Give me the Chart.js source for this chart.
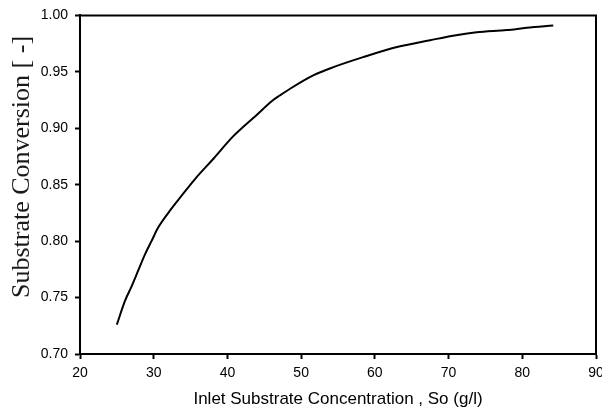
<!DOCTYPE html>
<html>
<head>
<meta charset="utf-8">
<script src="https://cdn.jsdelivr.net/npm/chart.js@4/dist/chart.umd.min.js"></script>
<style>
	html, body { margin: 0; padding: 0; background: #fff; }
	.chart { width: 602px; height: 410px; }
</style>
</head>
<body>
<div class="chart"><canvas class="chart__canvas" width="602" height="410"></canvas></div>
<script>
// values
const concentration = [25.0, 26.1, 27.0, 27.9, 28.8, 29.7, 30.6, 32.2, 34.0, 35.6, 38.1, 40.8, 44.0, 46.0, 47.1, 48.5, 51.7, 53.9, 58.4, 63.0, 67.5, 70.6, 73.8, 77.9, 80.6, 84.2];
const conversion = [0.726, 0.747, 0.760, 0.774, 0.788, 0.800, 0.812, 0.827, 0.842, 0.855, 0.873, 0.893, 0.912, 0.924, 0.929, 0.935, 0.947, 0.953, 0.963, 0.972, 0.978, 0.982, 0.985, 0.987, 0.989, 0.991];
const xTicks = [20, 30, 40, 50, 60, 70, 80, 90];
const yTicks = [0.70, 0.75, 0.80, 0.85, 0.90, 0.95, 1.00];

const xTitle = "Inlet Substrate Concentration , So (g/l)";
const yTitle = "Substrate Conversion [ -]";

const sans = "'Liberation Sans', Arial, sans-serif";
const serif = "'Liberation Serif', 'Times New Roman', serif";

// top/right frame lines and the rotated y title
const framePlugin = {
	id: "frame",
	afterDraw(chart) {
		const { ctx, chartArea } = chart;
		ctx.save();
		ctx.strokeStyle = "#000";
		ctx.lineWidth = 2;
		ctx.beginPath();
		ctx.moveTo(chartArea.left, chartArea.top);
		ctx.lineTo(chartArea.right, chartArea.top);
		ctx.lineTo(chartArea.right, chartArea.bottom);
		ctx.stroke();

		ctx.translate(29, 167);
		ctx.rotate(-Math.PI / 2);
		ctx.fillStyle = "#1a1a1a";
		ctx.font = "26px " + serif;
		ctx.textAlign = "center";
		ctx.textBaseline = "alphabetic";
		ctx.fillText(yTitle, 0, 0);
		ctx.restore();
	},
};

function configChart() {
	const points = concentration.map((x, i) => ({ x: x, y: conversion[i] }));

	const config = {
		type: "line",
		data: {
			datasets: [
				{
					data: points,
					borderColor: "#000",
					borderWidth: 2,
					pointRadius: 0,
					cubicInterpolationMode: "monotone",
					fill: false,
				},
			],
		},
		options: {
			responsive: false,
			animation: false,
			layout: { padding: { top: 14, right: 6, left: 0, bottom: 0 } },
			plugins: { legend: { display: false }, tooltip: { enabled: false } },
			scales: {
				x: {
					type: "linear",
					min: xTicks[0],
					max: xTicks[xTicks.length - 1],
					afterBuildTicks: (scale) => {
						scale.ticks = xTicks.map((v) => ({ value: v }));
					},
					afterFit: (scale) => {
						scale.height = 56;
						scale.paddingLeft = 0;
						scale.paddingRight = 0;
					},
					ticks: {
						color: "#000",
						font: { family: sans, size: 14 },
						padding: 6,
						maxRotation: 0,
						autoSkip: false,
					},
					grid: { drawOnChartArea: false, tickLength: 5, tickColor: "#000", tickWidth: 2 },
					border: { color: "#000", width: 2 },
					title: {
						display: true,
						text: xTitle,
						color: "#000",
						font: { family: sans, size: 17 },
						padding: { top: 0, bottom: 0 },
					},
				},
				y: {
					min: yTicks[0],
					max: yTicks[yTicks.length - 1],
					afterBuildTicks: (scale) => {
						scale.ticks = yTicks.map((v) => ({ value: v }));
					},
					afterFit: (scale) => {
						scale.width = 80;
					},
					ticks: {
						color: "#000",
						font: { family: sans, size: 14 },
						padding: 7,
						callback: (value) => Number(value).toFixed(2),
					},
					grid: { drawOnChartArea: false, tickLength: 5, tickColor: "#000", tickWidth: 2 },
					border: { color: "#000", width: 2 },
				},
			},
		},
		plugins: [framePlugin],
	};
	return config;
}

function render() {
	const chartDOM = document.querySelector(".chart__canvas");
	new Chart(chartDOM, configChart());
}

render();
</script>
</body>
</html>
